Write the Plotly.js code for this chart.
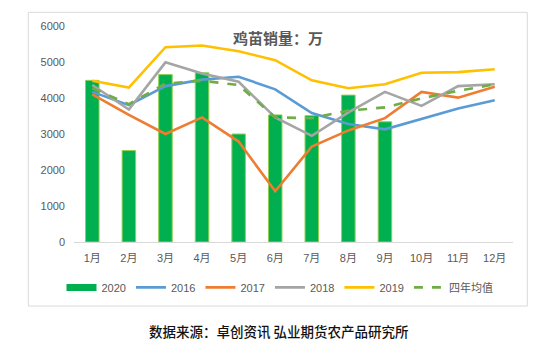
<!DOCTYPE html>
<html>
<head>
<meta charset="utf-8">
<script src="https://cdn.plot.ly/plotly-3.0.1.min.js"></script>
<style>
html,body{margin:0;padding:0;background:#fff;}
#chart{width:554px;height:353px;}
</style>
</head>
<body>
<div id="chart"></div>
<script>
const months = ['1月','2月','3月','4月','5月','6月','7月','8月','9月','10月','11月','12月'];
const y2020 = [4490, 2540, 4650, 4700, 3000, 3530, 3510, 4080, 3340];
const y2016 = [4170, 3800, 4330, 4510, 4590, 4240, 3580, 3280, 3130, 3410, 3710, 3940];
const y2017 = [4100, 3530, 3000, 3460, 2790, 1410, 2650, 3100, 3440, 4170, 4010, 4310];
const y2018 = [4360, 3680, 4990, 4680, 4450, 3460, 2950, 3600, 4170, 3780, 4330, 4380];
const y2019 = [4480, 4290, 5410, 5460, 5300, 5050, 4490, 4270, 4380, 4700, 4720, 4800];
const yAvg  = [4270, 3830, 4400, 4480, 4360, 3460, 3440, 3650, 3740, 3990, 4200, 4380];
const titleText = '鸡苗销量：万';
const sourceText = '数据来源：卓创资讯 弘业期货农产品研究所';

const FONT = 'Liberation Sans, Noto Sans CJK SC, sans-serif';
const lineW = 2.6;

const traces = [
  {type:'bar', x: months.slice(0, y2020.length), y: y2020, name:'2020', showlegend:false,
   marker:{color:'#00B050', line:{color:'#92D050', width:1}}},
  {type:'scatter', mode:'lines', x:[months[0]], y:[null], name:'2020', showlegend:true,
   line:{color:'#00B050', width:7}},
  {type:'scatter', mode:'lines', x: months, y: y2016, name:'2016', line:{color:'#5B9BD5', width:lineW}},
  {type:'scatter', mode:'lines', x: months, y: y2017, name:'2017', line:{color:'#ED7D31', width:lineW}},
  {type:'scatter', mode:'lines', x: months, y: y2018, name:'2018', line:{color:'#A5A5A5', width:lineW}},
  {type:'scatter', mode:'lines', x: months, y: y2019, name:'2019', line:{color:'#FFC000', width:lineW}},
  {type:'scatter', mode:'lines', x: months, y: yAvg, name:'四年均值', line:{color:'#70AD47', width:lineW, dash:'dash'}}
];

const L = 74, R = 513, T = 26, B = 242.5, W = 554, H = 353;
const pw = R - L, ph = B - T;
const px = v => (v - L) / pw;
const py = v => (B - v) / ph;

const layout = {
  width: W, height: H,
  margin: {l: L, r: W - R, t: T, b: H - B, pad: 0},
  paper_bgcolor: '#ffffff', plot_bgcolor: 'rgba(0,0,0,0)',
  font: {family: FONT, color: '#595959', size: 11},
  bargap: 0.63,
  showlegend: true,
  legend: {orientation: 'h', x: px(280), xanchor: 'center', y: py(288), yanchor: 'middle',
           font: {size: 11, color: '#595959', family: FONT}, traceorder: 'normal',
           bgcolor: 'rgba(0,0,0,0)', itemwidth: 30, tracegroupgap: 0},
  xaxis: {type: 'category', categoryarray: months, categoryorder: 'array',
          range: [-0.5, 11.5], showgrid: false, zeroline: false,
          showline: true, linecolor: '#D9D9D9', linewidth: 1,
          ticks: '', tickfont: {size: 11, color: '#595959', family: FONT}, ticklabelstandoff: 6},
  yaxis: {range: [0, 6000], dtick: 1000, showgrid: false, zeroline: false, showline: false,
          ticks: '', tickfont: {size: 11, color: '#595959', family: FONT}, ticklabelstandoff: 8},
  shapes: [
    {type: 'rect', xref: 'paper', yref: 'paper', x0: px(28.3), x1: px(527.3), y0: py(306.7), y1: py(12.3),
     line: {color: '#D9D9D9', width: 1}, fillcolor: 'rgba(0,0,0,0)', layer: 'below'}
  ],
  annotations: [
    {text: '<b>' + titleText + '</b>', xref: 'paper', yref: 'paper', x: px(278), y: py(38),
     xanchor: 'center', yanchor: 'middle', showarrow: false,
     font: {size: 15, color: '#595959', family: 'Noto Sans CJK SC, sans-serif'}},
    {text: sourceText, xref: 'paper', yref: 'paper', x: px(279), y: py(332),
     xanchor: 'center', yanchor: 'middle', showarrow: false,
     font: {size: 13.5, color: '#111111', family: 'Noto Sans CJK SC, sans-serif', weight: 500}}
  ]
};

Plotly.newPlot('chart', traces, layout, {displayModeBar: false, staticPlot: true});
</script>
</body>
</html>
